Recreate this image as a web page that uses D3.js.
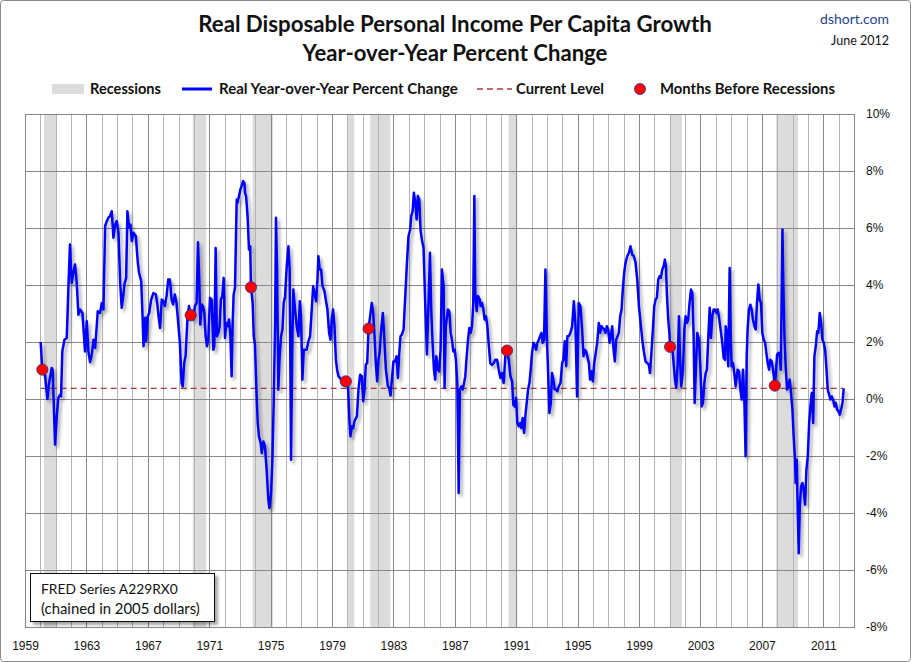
<!DOCTYPE html>
<html><head><meta charset="utf-8">
<script src="https://cdn.jsdelivr.net/npm/d3@7"></script>
<style>body{margin:0;background:#fff}svg{display:block}</style>
</head><body>
<svg id="c" width="911" height="662"></svg>
<script>
// ---------- DATA ----------
const yoy1960s = [[1960.02,2.0],[1960.13,1.03],[1960.3,0.85],[1960.46,0.0],[1960.57,0.56],[1960.74,1.09],[1960.8,1.03],[1960.96,-1.6],[1961.07,-0.6],[1961.17,0.03],[1961.28,0.15],[1961.35,0.09],[1961.43,1.67],[1961.57,2.08],[1961.72,2.14],[1961.83,3.96],[1961.93,5.42],[1962.04,4.07],[1962.15,4.43],[1962.26,4.72],[1962.37,4.07],[1962.48,2.96],[1962.59,3.14],[1962.74,3.02],[1962.91,1.67],[1963.02,2.73],[1963.13,1.67],[1963.24,1.29],[1963.35,1.55],[1963.46,2.08],[1963.57,1.79],[1963.74,3.08],[1963.89,3.02],[1964.0,3.37],[1964.11,3.14],[1964.22,6.07],[1964.33,6.24],[1964.43,6.36],[1964.54,6.42],[1964.65,6.59],[1964.76,5.66],[1964.87,6.12],[1964.98,6.24],[1965.09,5.83],[1965.2,4.07],[1965.3,3.2],[1965.41,3.67],[1965.48,4.03],[1965.59,4.25],[1965.67,6.59],[1965.78,6.01],[1965.87,6.12],[1965.96,5.54],[1966.07,5.83],[1966.22,5.71],[1966.35,4.78],[1966.43,4.43],[1966.57,4.13],[1966.65,3.02],[1966.72,1.85],[1966.83,2.85],[1966.89,2.03],[1967.0,2.9],[1967.09,3.02],[1967.22,3.49],[1967.37,3.72],[1967.52,3.67],[1967.61,3.37],[1967.7,2.9],[1967.8,2.49],[1967.91,3.49],[1968.02,3.43],[1968.11,3.26],[1968.22,3.61],[1968.33,4.19],[1968.44,4.19],[1968.55,3.49],[1968.65,3.32],[1968.76,3.67],[1968.87,3.37],[1968.98,2.67],[1969.09,1.97],[1969.2,0.56],[1969.27,0.44],[1969.37,1.26],[1969.46,1.5],[1969.59,2.9],[1969.68,3.26],[1969.79,2.94],[1969.85,2.9],[1969.96,2.79]];
const yoy1970s = [[1970.07,3.26],[1970.18,3.37],[1970.27,5.5],[1970.35,4.19],[1970.42,2.61],[1970.5,3.32],[1970.59,3.26],[1970.68,3.02],[1970.77,2.2],[1970.85,1.85],[1970.94,2.08],[1971.05,3.55],[1971.16,3.49],[1971.27,1.73],[1971.33,1.85],[1971.42,5.3],[1971.5,2.2],[1971.59,2.32],[1971.68,2.55],[1971.76,3.49],[1971.85,3.61],[1971.94,4.25],[1972.03,2.14],[1972.11,2.67],[1972.2,2.55],[1972.29,2.79],[1972.37,2.32],[1972.46,0.8],[1972.52,2.55],[1972.59,3.66],[1972.68,3.9],[1972.79,7.0],[1972.85,6.89],[1972.94,7.12],[1973.03,7.35],[1973.11,7.47],[1973.2,7.65],[1973.29,7.59],[1973.33,7.24],[1973.4,7.12],[1973.5,6.42],[1973.59,5.25],[1973.67,5.36],[1973.72,3.92],[1973.83,3.37],[1973.9,2.2],[1973.98,1.91],[1974.09,0.09],[1974.16,-0.84],[1974.24,-1.31],[1974.35,-1.54],[1974.42,-1.9],[1974.53,-1.49],[1974.63,-1.66],[1974.74,-2.48],[1974.85,-3.54],[1974.92,-3.83],[1975.03,-3.3],[1975.11,-2.25],[1975.2,-0.14],[1975.29,2.67],[1975.35,6.36],[1975.42,4.54],[1975.5,0.33],[1975.59,1.5],[1975.68,2.2],[1975.77,2.44],[1975.85,3.37],[1975.94,3.6],[1976.05,4.66],[1976.16,5.36],[1976.24,4.54],[1976.33,-2.13],[1976.42,2.2],[1976.48,3.84],[1976.59,3.14],[1976.7,2.55],[1976.81,2.2],[1976.9,3.43],[1976.98,2.9],[1977.07,0.68],[1977.16,1.73],[1977.25,1.73],[1977.35,1.73],[1977.46,2.03],[1977.57,2.2],[1977.68,3.14],[1977.77,3.96],[1977.85,3.73],[1977.96,3.43],[1978.05,4.19],[1978.11,5.01],[1978.2,4.54],[1978.29,4.54],[1978.38,3.96],[1978.51,3.78],[1978.59,3.49],[1978.7,3.14],[1978.81,2.32],[1978.9,2.08],[1978.98,2.79],[1979.07,3.14],[1979.16,2.55],[1979.25,1.38],[1979.33,1.03],[1979.42,0.8],[1979.51,0.74],[1979.59,0.68],[1979.68,0.5],[1979.77,0.56],[1979.9,0.62]];
const yoy1980s = [[1980.03,0.56],[1980.14,-0.84],[1980.2,-1.31],[1980.29,-0.96],[1980.38,-1.02],[1980.46,-0.78],[1980.62,-0.61],[1980.72,0.33],[1980.83,0.85],[1980.94,0.8],[1981.03,-0.08],[1981.11,0.27],[1981.2,1.21],[1981.29,1.26],[1981.38,2.47],[1981.48,2.9],[1981.59,3.37],[1981.68,3.02],[1981.77,2.2],[1981.85,1.26],[1981.94,0.62],[1982.03,1.38],[1982.11,1.67],[1982.2,2.44],[1982.31,3.02],[1982.42,1.97],[1982.51,1.03],[1982.64,0.44],[1982.72,0.39],[1982.81,0.12],[1982.9,0.68],[1983.0,1.32],[1983.11,1.32],[1983.2,1.5],[1983.29,0.74],[1983.38,1.61],[1983.46,2.2],[1983.55,2.26],[1983.66,2.44],[1983.77,3.6],[1983.88,4.78],[1983.98,5.71],[1984.09,5.95],[1984.16,6.42],[1984.25,6.59],[1984.33,7.24],[1984.42,6.89],[1984.51,6.3],[1984.59,7.12],[1984.68,7.0],[1984.77,5.89],[1984.85,5.6],[1984.96,5.3],[1985.07,3.37],[1985.18,1.56],[1985.29,3.49],[1985.38,5.13],[1985.46,3.14],[1985.55,1.97],[1985.64,1.03],[1985.72,0.68],[1985.79,1.5],[1985.9,1.03],[1985.98,0.97],[1986.07,1.73],[1986.16,4.54],[1986.27,3.96],[1986.33,0.39],[1986.41,2.55],[1986.55,3.14],[1986.64,3.08],[1986.73,2.32],[1986.81,2.08],[1986.9,1.67],[1986.99,1.73],[1987.07,1.38],[1987.16,0.56],[1987.25,-3.3],[1987.33,0.33],[1987.42,0.44],[1987.51,0.33],[1987.6,0.56],[1987.68,0.8],[1987.77,1.5],[1987.86,2.08],[1987.94,2.49],[1988.03,2.32],[1988.12,2.55],[1988.2,3.37],[1988.27,7.12],[1988.33,3.72],[1988.42,3.08],[1988.51,3.61],[1988.62,3.49],[1988.68,3.26],[1988.77,3.37],[1988.86,3.14],[1988.94,2.79],[1989.03,2.9],[1989.12,2.55],[1989.2,1.97],[1989.31,1.26],[1989.42,1.2],[1989.53,1.26],[1989.64,1.38],[1989.75,1.38],[1989.86,1.03],[1989.97,0.74]];
const yoy1990s = [[1990.07,0.91],[1990.18,0.56],[1990.29,1.5],[1990.40,1.70],[1990.51,1.38],[1990.62,0.8],[1990.73,0.62],[1990.81,-0.2],[1990.9,-0.26],[1990.99,0.04],[1991.07,-0.84],[1991.16,-0.96],[1991.25,-0.84],[1991.33,-1.02],[1991.42,-0.67],[1991.51,-1.19],[1991.59,-0.61],[1991.68,-0.14],[1991.77,0.33],[1991.86,0.56],[1991.94,1.03],[1992.03,1.62],[1992.12,1.97],[1992.2,1.91],[1992.29,1.73],[1992.38,1.97],[1992.47,2.08],[1992.55,2.2],[1992.64,2.32],[1992.72,1.97],[1992.81,2.08],[1992.9,4.54],[1992.99,2.2],[1993.07,1.03],[1993.16,-0.49],[1993.25,-0.14],[1993.33,0.91],[1993.42,0.68],[1993.51,0.33],[1993.59,0.33],[1993.68,0.27],[1993.77,0.44],[1993.88,0.56],[1993.99,1.26],[1994.07,1.38],[1994.16,2.03],[1994.25,1.15],[1994.33,2.2],[1994.42,2.2],[1994.53,2.32],[1994.64,2.55],[1994.75,3.43],[1994.86,2.55],[1994.96,0.09],[1995.07,3.37],[1995.18,3.26],[1995.29,2.44],[1995.38,1.5],[1995.46,1.73],[1995.55,1.67],[1995.73,1.26],[1995.81,0.68],[1995.9,0.97],[1995.99,0.62],[1996.08,1.26],[1996.16,1.55],[1996.27,1.97],[1996.38,2.67],[1996.47,2.32],[1996.55,2.55],[1996.64,2.49],[1996.73,2.44],[1996.81,2.32],[1996.9,2.55],[1996.99,2.44],[1997.08,1.97],[1997.16,2.2],[1997.25,2.55],[1997.34,1.73],[1997.42,1.32],[1997.51,2.08],[1997.6,2.2],[1997.68,2.32],[1997.77,2.9],[1997.86,3.14],[1997.94,3.84],[1998.03,4.43],[1998.12,4.78],[1998.23,5.01],[1998.34,5.13],[1998.44,5.36],[1998.55,5.07],[1998.66,5.01],[1998.77,4.78],[1998.88,4.19],[1998.99,3.26],[1999.1,2.67],[1999.21,2.08],[1999.31,1.67],[1999.42,1.32],[1999.53,1.26],[1999.64,1.21],[1999.71,0.91],[1999.79,1.5],[1999.9,2.44],[1999.99,3.26]];
const yoy2000s = [[2000.08,3.49],[2000.16,3.55],[2000.25,4.19],[2000.34,4.31],[2000.42,4.25],[2000.51,4.54],[2000.6,4.66],[2000.68,4.89],[2000.75,4.66],[2000.81,3.72],[2000.9,2.79],[2000.99,2.2],[2001.02,1.83],[2001.16,1.85],[2001.25,1.26],[2001.34,0.68],[2001.42,0.39],[2001.51,1.15],[2001.6,2.9],[2001.66,1.5],[2001.75,0.44],[2001.86,1.03],[2001.95,2.44],[2002.03,2.9],[2002.12,2.67],[2002.2,2.79],[2002.29,3.37],[2002.38,3.84],[2002.47,3.73],[2002.55,2.32],[2002.62,-0.14],[2002.71,1.15],[2002.79,2.32],[2002.9,2.08],[2002.99,1.15],[2003.08,-0.26],[2003.16,-0.14],[2003.25,0.56],[2003.34,0.91],[2003.42,1.03],[2003.51,2.2],[2003.6,3.2],[2003.68,2.14],[2003.77,2.9],[2003.86,3.14],[2003.95,3.14],[2004.03,3.02],[2004.12,3.14],[2004.2,2.9],[2004.31,2.44],[2004.42,1.97],[2004.51,1.44],[2004.6,1.38],[2004.64,2.55],[2004.75,2.2],[2004.81,1.15],[2004.9,4.6],[2004.97,2.2],[2005.03,1.15],[2005.12,1.26],[2005.2,0.91],[2005.29,0.44],[2005.42,1.03],[2005.51,0.97],[2005.6,0.33],[2005.68,-0.02],[2005.77,1.03],[2005.86,-0.08],[2005.94,-2.01],[2006.01,1.5],[2006.07,2.44],[2006.16,3.14],[2006.25,3.31],[2006.33,3.14],[2006.42,2.79],[2006.51,2.55],[2006.6,2.44],[2006.68,3.37],[2006.77,4.02],[2006.86,3.49],[2006.94,3.37],[2007.03,2.32],[2007.12,2.08],[2007.21,1.97],[2007.29,1.62],[2007.38,1.26],[2007.47,1.03],[2007.55,1.38],[2007.64,1.32],[2007.73,1.03],[2007.84,0.47],[2007.9,0.8],[2007.99,1.56],[2008.08,1.62],[2008.16,1.5],[2008.23,1.03],[2008.34,5.95],[2008.4,3.96],[2008.47,2.2],[2008.55,1.15],[2008.64,0.33],[2008.72,0.44],[2008.81,0.68],[2008.9,0.21],[2008.99,-0.37],[2009.07,-1.31],[2009.16,-2.13],[2009.2,-2.95],[2009.27,-2.13],[2009.34,-4.0],[2009.4,-5.41],[2009.47,-3.77],[2009.55,-3.07],[2009.64,-2.95],[2009.72,-3.19],[2009.81,-3.71],[2009.9,-2.48],[2009.99,-2.01]];
const yoy2010s = [[2010.08,-0.84],[2010.16,-0.26],[2010.25,0.21],[2010.34,-0.84],[2010.42,1.5],[2010.51,1.85],[2010.6,2.38],[2010.68,2.32],[2010.77,3.02],[2010.86,2.67],[2010.94,2.08],[2011.03,1.97],[2011.12,1.73],[2011.21,1.03],[2011.29,0.33],[2011.38,0.15],[2011.47,-0.02],[2011.55,0.09],[2011.64,-0.02],[2011.73,-0.26],[2011.81,-0.14],[2011.9,-0.37],[2011.99,-0.43],[2012.07,-0.55],[2012.16,-0.37],[2012.25,-0.14],[2012.33,0.37]];

const recessionStart = [1960.24, 1969.93, 1973.83, 1980.0, 1981.49, 1990.5, 2001.08, 2007.93];
const recessionEnd   = [1961.05, 1970.8, 1975.15, 1980.45, 1982.8, 1991.06, 2001.8, 2009.36];

const beforeYears  = [1960.13, 1969.79, 1973.72, 1979.9, 1981.38, 1990.40, 2001.02, 2007.84];
const beforeValues = [1.03, 2.94, 3.92, 0.62, 2.47, 1.70, 1.83, 0.47];

const currentLevel = 0.37;
const xTickYears = [1959,1963,1967,1971,1975,1979,1983,1987,1991,1995,1999,2003,2007,2011];
const yTicks = [-8,-6,-4,-2,0,2,4,6,8,10];

// ---------- CHART ----------
const series = [].concat(yoy1960s, yoy1970s, yoy1980s, yoy1990s, yoy2000s, yoy2010s);
const svg = d3.select('#c');
const L = 25, R = 854, T = 114, B = 627;
const x = d3.scaleLinear().domain([1959, 2013]).range([L, R]);
const y = d3.scaleLinear().domain([-8, 10]).range([B, T]);
const px = v => Math.round(v) + 0.5;

const defs = svg.append('defs');
const f = defs.append('filter').attr('id','sh').attr('x','-5%').attr('y','-5%').attr('width','110%').attr('height','110%');
f.append('feDropShadow').attr('dx',2.5).attr('dy',3).attr('stdDeviation',1.6).attr('flood-color','#000').attr('flood-opacity',0.33);
const f2 = defs.append('filter').attr('id','sh2').attr('x','-10%').attr('y','-20%').attr('width','130%').attr('height','150%');
f2.append('feDropShadow').attr('dx',3).attr('dy',3).attr('stdDeviation',1.5).attr('flood-color','#000').attr('flood-opacity',0.35);

// outer frame
svg.append('rect').attr('x',0.5).attr('y',0.5).attr('width',910).attr('height',661).attr('rx',3)
  .attr('fill','#fff').attr('stroke','#8a8a8a');

// recession bands
svg.append('g').selectAll('rect').data(recessionStart).join('rect')
  .attr('x', (d) => x(d)).attr('y', T)
  .attr('width', (d,i) => x(recessionEnd[i]) - x(d)).attr('height', B - T)
  .attr('fill', '#dcdcdc');

// vertical gridlines
const years = d3.range(1960, 2013);
svg.append('g').selectAll('line').data(years).join('line')
  .attr('x1', d => px(x(d))).attr('x2', d => px(x(d)))
  .attr('y1', T).attr('y2', B)
  .attr('stroke', d => ((d - 1959) % 4 === 0) ? '#888' : '#b4b4b4').attr('stroke-width', 1);

// horizontal gridlines
svg.append('g').selectAll('line').data(yTicks.slice(1, -1)).join('line')
  .attr('x1', L).attr('x2', R)
  .attr('y1', d => px(y(d))).attr('y2', d => px(y(d)))
  .attr('stroke', '#888').attr('stroke-width', 1);

// plot border
svg.append('rect').attr('x', px(L)).attr('y', px(T)).attr('width', Math.round(R) - Math.round(L)).attr('height', Math.round(B) - Math.round(T))
  .attr('fill','none').attr('stroke','#868686');

// axes labels (via d3 axes)
const xAxis = svg.append('g').attr('transform', `translate(0,${B})`)
  .call(d3.axisBottom(x).tickValues(xTickYears).tickFormat(d3.format('d')).tickSize(0).tickPadding(14));
const yAxis = svg.append('g').attr('transform', `translate(${R},0)`)
  .call(d3.axisRight(y).tickValues(yTicks).tickFormat(d => d + '%').tickSize(0).tickPadding(12));
[xAxis, yAxis].forEach(g => {
  g.select('.domain').remove();
  g.selectAll('text').attr('font-family','"Liberation Sans", Arial, sans-serif').attr('font-size', 12).attr('fill','#111');
});

// current level dashed line
svg.append('line')
  .attr('x1', x(series[0][0])).attr('x2', x(series[series.length-1][0]))
  .attr('y1', y(currentLevel)).attr('y2', y(currentLevel))
  .attr('stroke', '#b03a3a').attr('stroke-width', 1.3).attr('stroke-dasharray', '6,4');

// main line
svg.append('path').datum(series)
  .attr('d', d3.line().x(d => x(d[0])).y(d => y(d[1])))
  .attr('fill','none').attr('stroke','#0000ff').attr('stroke-width', 2.5)
  .attr('stroke-linejoin','round').attr('filter','url(#sh)');

// months before recessions
svg.append('g').selectAll('circle').data(beforeYears).join('circle')
  .attr('cx', d => x(d)).attr('cy', (d,i) => y(beforeValues[i])).attr('r', 5.6)
  .attr('fill', '#ff0000').attr('stroke', '#2a2a90').attr('stroke-width', 0.8);

// ---------- TEXT ----------
function fit(sel, w) {
  const cur = sel.node().getComputedTextLength();
  const fs = parseFloat(sel.attr('font-size'));
  if (cur > 0) sel.attr('font-size', fs * w / cur);
  return sel;
}
const FONT = 'Lato, "Open Sans", "DejaVu Sans", sans-serif';

fit(svg.append('text').attr('x', 455).attr('y', 32).attr('text-anchor','middle')
  .attr('font-family', FONT).attr('font-weight','bold').attr('font-size', 21).attr('fill','#111')
  .text('Real Disposable Personal Income Per Capita Growth'), 514);
fit(svg.append('text').attr('x', 455).attr('y', 61).attr('text-anchor','middle')
  .attr('font-family', FONT).attr('font-weight','bold').attr('font-size', 21).attr('fill','#111')
  .text('Year-over-Year Percent Change'), 305);

fit(svg.append('text').attr('x', 889).attr('y', 24).attr('text-anchor','end')
  .attr('font-family', FONT).attr('font-size', 14).attr('fill','#1f3f8f').text('dshort.com'), 69);
fit(svg.append('text').attr('x', 889).attr('y', 45).attr('text-anchor','end')
  .attr('font-family', FONT).attr('font-size', 13).attr('fill','#111').text('June 2012'), 58);

// legend
const lg = svg.append('g');
lg.append('rect').attr('x', 52).attr('y', 84).attr('width', 32).attr('height', 10).attr('fill', '#dcdcdc');
lg.append('line').attr('x1', 182).attr('x2', 212).attr('y1', 89).attr('y2', 89).attr('stroke', '#0000ff').attr('stroke-width', 3);
lg.append('line').attr('x1', 477).attr('x2', 512).attr('y1', 89).attr('y2', 89).attr('stroke', '#b03a3a').attr('stroke-width', 1.3).attr('stroke-dasharray', '6,4');
lg.append('circle').attr('cx', 640).attr('cy', 89).attr('r', 5.5).attr('fill', '#ff0000').attr('stroke', '#2a2a90').attr('stroke-width', 0.8);
const legendItems = [['Recessions', 90, 71], ['Real Year-over-Year Percent Change', 219, 239], ['Current Level', 516, 88], ['Months Before Recessions', 660, 175]];
legendItems.forEach(([t, lx, w]) => {
  fit(lg.append('text').attr('x', lx).attr('y', 94).attr('font-family', FONT).attr('font-weight', 'bold')
    .attr('font-size', 14).attr('fill', '#111').text(t), w);
});

// FRED note box
const nb = svg.append('g');
nb.append('rect').attr('x', 30.5).attr('y', 573.5).attr('width', 184).attr('height', 48)
  .attr('fill', '#fff').attr('stroke', '#111').attr('filter', 'url(#sh2)');
fit(nb.append('text').attr('x', 41).attr('y', 594).attr('font-family', FONT).attr('font-size', 14).attr('fill', '#111')
  .text('FRED Series A229RX0'), 137);
fit(nb.append('text').attr('x', 41).attr('y', 614).attr('font-family', FONT).attr('font-size', 14).attr('fill', '#111')
  .text('(chained in 2005 dollars)'), 159);
</script>
</body></html>
